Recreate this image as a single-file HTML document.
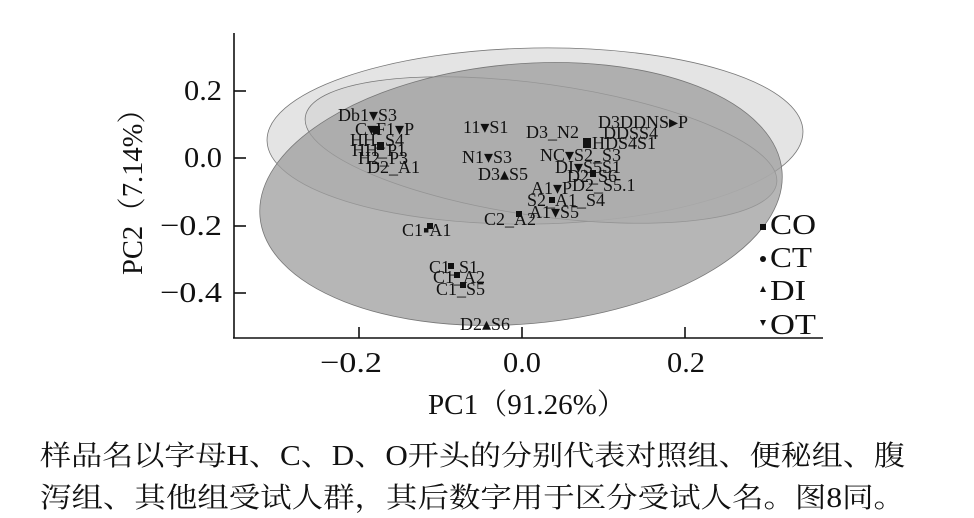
<!DOCTYPE html>
<html><head><meta charset="utf-8"><style>
html,body{margin:0;padding:0;background:#fff;}
svg{display:block;}
text{font-family:"Liberation Serif","Noto Serif CJK SC",serif;fill:#111;}
</style></head><body>
<svg width="974" height="518" viewBox="0 0 974 518" xmlns="http://www.w3.org/2000/svg">
<ellipse cx="535" cy="136" rx="268" ry="88" fill="#e4e4e4" stroke="#777" stroke-width="0.8" transform="rotate(-1 535 136)"/>
<ellipse cx="541" cy="150" rx="238" ry="66" fill="#d6d6d6" fill-opacity="0.8" stroke="#777" stroke-width="0.8" transform="rotate(8 541 150)"/>
<ellipse cx="521" cy="194" rx="262" ry="130" fill="#9e9e9e" fill-opacity="0.75" stroke="#777" stroke-width="0.8" transform="rotate(-5 521 194)"/>
<g stroke="#111" stroke-width="1.6" fill="none">
<line x1="234" y1="33" x2="234" y2="338"/>
<line x1="233" y1="338" x2="823" y2="338"/>
<line x1="234" y1="91" x2="246" y2="91"/>
<line x1="234" y1="158" x2="246" y2="158"/>
<line x1="234" y1="226" x2="246" y2="226"/>
<line x1="234" y1="293" x2="246" y2="293"/>
<line x1="359" y1="338" x2="359" y2="327"/>
<line x1="522" y1="338" x2="522" y2="327"/>
<line x1="685" y1="338" x2="685" y2="327"/>
</g>
<g font-size="29">
<text x="222" y="100" text-anchor="end" textLength="38" lengthAdjust="spacingAndGlyphs">0.2</text>
<text x="222" y="167" text-anchor="end" textLength="38" lengthAdjust="spacingAndGlyphs">0.0</text>
<text x="222" y="235" text-anchor="end" textLength="62" lengthAdjust="spacingAndGlyphs">−0.2</text>
<text x="222" y="302" text-anchor="end" textLength="62" lengthAdjust="spacingAndGlyphs">−0.4</text>
<text x="320" y="372" textLength="62" lengthAdjust="spacingAndGlyphs">−0.2</text>
<text x="503" y="372" textLength="38" lengthAdjust="spacingAndGlyphs">0.0</text>
<text x="667" y="372" textLength="38" lengthAdjust="spacingAndGlyphs">0.2</text>
<text x="428" y="414" textLength="198" lengthAdjust="spacingAndGlyphs">PC1（91.26%）</text>
<text transform="translate(142 275) rotate(-90)" textLength="180" lengthAdjust="spacingAndGlyphs">PC2（7.14%）</text>
</g>
<g font-size="29">
<rect x="760" y="224" width="6" height="6" fill="#111"/><text x="770" y="234" textLength="46" lengthAdjust="spacingAndGlyphs">CO</text>
<circle cx="763" cy="259" r="3" fill="#111"/><text x="770" y="267" textLength="42" lengthAdjust="spacingAndGlyphs">CT</text>
<polygon points="760,292 766,292 763,286" fill="#111"/><text x="770" y="300" textLength="36" lengthAdjust="spacingAndGlyphs">DI</text>
<polygon points="760,320 766,320 763,326" fill="#111"/><text x="770" y="334" textLength="46" lengthAdjust="spacingAndGlyphs">OT</text>
</g>
<g font-size="18">
<text x="338" y="121">Db1▾S3</text>
<text x="355" y="135">C▾F1▾P</text>
<text x="350" y="146">HH_S4</text>
<text x="352" y="156">HH_P1</text>
<text x="358" y="164">H2_P3</text>
<text x="367" y="173">D2_A1</text>
<rect x="373" y="126" width="7" height="8" fill="#111"/>
<rect x="377" y="142" width="7" height="8" fill="#111"/>
<text x="463" y="133">11▾S1</text>
<text x="462" y="163">N1▾S3</text>
<text x="478" y="180">D3▴S5</text>
<text x="526" y="138">D3_N2</text>
<text x="598" y="128">D3DDNS▸P</text>
<text x="603" y="139">DDSS4</text>
<text x="592" y="149">HDS4S1</text>
<text x="540" y="161">NC▾S2_S3</text>
<text x="555" y="173">DI▾S5S1</text>
<text x="567" y="182">D2_S6</text>
<text x="572" y="191">D2_S5.1</text>
<rect x="583" y="138" width="8" height="10" fill="#111"/>
<rect x="590" y="170" width="6" height="7" fill="#111"/>
<text x="531" y="194">A1▾P</text>
<text x="527" y="206">S2_A1_S4</text>
<text x="484" y="225">C2_A2</text>
<text x="529" y="218">A1▾S5</text>
<rect x="516" y="211" width="6" height="6" fill="#111"/>
<rect x="549" y="197" width="6" height="6" fill="#111"/>
<text x="402" y="236">C1▪A1</text>
<rect x="427" y="223" width="6" height="6" fill="#111"/>
<text x="429" y="273">C1_S1</text>
<text x="433" y="283">C1_A2</text>
<text x="436" y="295">C1_S5</text>
<rect x="448" y="263" width="6" height="6" fill="#111"/>
<rect x="454" y="272" width="6" height="6" fill="#111"/>
<rect x="460" y="282" width="6" height="6" fill="#111"/>
<text x="460" y="330">D2▴S6</text>
</g>
<g font-size="28">
<text x="40" y="465" textLength="865" lengthAdjust="spacingAndGlyphs">样品名以字母H、C、D、O开头的分别代表对照组、便秘组、腹</text>
<text x="40" y="507" textLength="865" lengthAdjust="spacingAndGlyphs">泻组、其他组受试人群，其后数字用于区分受试人名。图8同。</text>
</g>
</svg>
</body></html>
